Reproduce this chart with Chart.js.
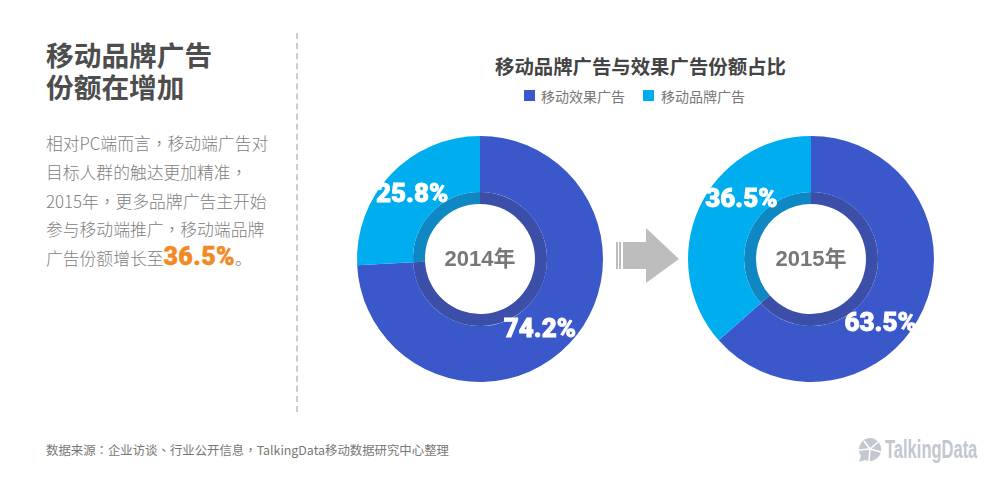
<!DOCTYPE html>
<html>
<head>
<meta charset="utf-8">
<title>移动品牌广告份额</title>
<script src="https://cdn.jsdelivr.net/npm/chart.js@4"></script>
<style>
  html, body { margin: 0; padding: 0; background: #fff; }
  body { position: relative; width: 1000px; height: 477px; overflow: hidden;
    font-family: "Noto Sans CJK SC", "Liberation Sans", sans-serif; }
  .abs { position: absolute; white-space: nowrap; }
  .p { font-family: "Noto Sans CJK TC", sans-serif; }
  #headline { left: 46px; top: 38px; font-size: 27.7px; line-height: 32px; font-weight: 700; color: #4d4d4d; }
  #body { left: 46px; top: 129px; font-size: 16.8px; line-height: 28.8px; font-weight: 300; color: #808080; }
  #body b { font-family: Roboto, sans-serif; font-weight: 900; font-size: 25px; letter-spacing: 0.4px; color: #f28a24; line-height: 20px; -webkit-text-stroke: 0.5px #f28a24; }
  #divider { left: 296px; top: 33px; height: 379px; border-left: 2px dashed #cccccc; }
  #title { left: 495px; top: 52px; font-size: 19.4px; line-height: 28px; font-weight: 700; color: #444; }
  .key { top: 86px; font-size: 14px; line-height: 20px; color: #777; }
  .swatch { top: 90px; width: 11px; height: 11px; }
  #source { left: 46px; top: 441px; font-size: 12.4px; line-height: 18px; color: #777; }
  #logo { left: 885px; top: 435px; font-family: "Liberation Sans", sans-serif; transform-origin: left top;
    transform: scaleX(0.66); font-size: 25px; line-height: 28px; font-weight: 700; color: #c3c7d0; }
  canvas { position: absolute; }
</style>
</head>
<body>
<div id="headline" class="abs">移动品牌广告<br>份额在增加</div>
<div id="body" class="abs">相对PC端而言<span class="p">，</span>移动端广告对<br>目标人群的触达更加精准<span class="p">，</span><br>2015年<span class="p">，</span>更多品牌广告主开始<br>参与移动端推广<span class="p">，</span>移动端品牌<br>广告份额增长至<b>36.5%</b>。</div>
<div id="divider" class="abs"></div>
<div id="title" class="abs">移动品牌广告与效果广告份额占比</div>
<div class="abs swatch" style="left:524px;background:#3b58cb"></div>
<div class="abs key" style="left:541px">移动效果广告</div>
<div class="abs swatch" style="left:643px;background:#00aeef"></div>
<div class="abs key" style="left:661px">移动品牌广告</div>

<canvas id="chart-2014" style="left:350px;top:129px"></canvas>
<canvas id="chart-2015" style="left:681px;top:129px"></canvas>

<svg class="abs" style="left:610px;top:220px" width="76" height="70">
  <path fill="#bdbdbd" d="M13 22H36V8L69 39 36 63V49H13Z M6 22H8V49H6Z M9 22H11V49H9Z"/>
</svg>

<div id="source" class="abs">数据来源<span class="p">：</span>企业访谈<span class="p">、</span>行业公开信息<span class="p">，</span>TalkingData移动数据研究中心整理</div>
<svg class="abs" style="left:856px;top:436px" width="28" height="28">
  <path fill="#c3c7d0" d="M14 2A11.5 11.5 0 1 1 9 24L3 26 5 20A11.5 11.5 0 0 1 14 2Z"/>
  <path stroke="#fff" stroke-width="1.6" fill="none" d="M14 13L8 5M14 13L22 6M14 13L3 14M14 13L25 16M14 13L13 25"/>
</svg>
<div id="logo" class="abs">TalkingData</div>

<script>
var categories = ["移动效果广告", "移动品牌广告"];
var years = ["2014年", "2015年"];
var values2014 = [74.2, 25.8];
var values2015 = [63.5, 36.5];
var outerColors = ["#3b58cb", "#00aeef"];
var ringColors = ["#3b4fa9", "#0e87c3"];

// nudges for the percent labels, the source doesn't centre them on the slices
var labelNudge = {
  "2014年": [[-9, 6], [1, 2]],
  "2015年": [[-17, 26], [17, -19]]
};

var extrasPlugin = {
  id: "extras",
  afterDraw: function (chart) {
    var c = chart.ctx;
    var year = chart.options.plugins.extras.year;
    var arcs = chart.getDatasetMeta(0).data;
    c.save();
    c.textAlign = "center";
    c.textBaseline = "middle";
    c.fillStyle = "#ffffff";
    c.strokeStyle = "#ffffff";
    c.lineWidth = 0.8;
    c.font = "900 26px Roboto, sans-serif";
    arcs.forEach(function (arc, i) {
      var p = arc.tooltipPosition();
      var d = labelNudge[year][i];
      var v = chart.data.datasets[0].data[i];
      var s = v.toFixed(1) + "%";
      c.fillText(s, p.x + d[0], p.y + d[1]);
      c.strokeText(s, p.x + d[0], p.y + d[1]);
    });
    c.fillStyle = "#777777";
    c.font = '700 22px "Liberation Sans", "Noto Sans CJK SC", sans-serif';
    c.fillText(year, arcs[0].x, arcs[0].y + 1);
    c.restore();
  }
};

function makeDonut(id, year, values) {
  return new Chart(document.getElementById(id), {
    type: "doughnut",
    data: {
      labels: categories,
      datasets: [
        { data: values, backgroundColor: outerColors, borderWidth: 0, weight: 56 },
        { data: values, backgroundColor: ringColors, borderWidth: 0, weight: 12 }
      ]
    },
    options: {
      responsive: false,
      animation: false,
      cutout: 55,
      layout: { padding: 7 },
      plugins: {
        legend: { display: false },
        tooltip: { enabled: false },
        extras: { year: year }
      }
    },
    plugins: [extrasPlugin]
  });
}

document.getElementById("chart-2014").width = 260;
document.getElementById("chart-2014").height = 260;
document.getElementById("chart-2015").width = 260;
document.getElementById("chart-2015").height = 260;
makeDonut("chart-2014", years[0], values2014);
makeDonut("chart-2015", years[1], values2015);
</script>
</body>
</html>
